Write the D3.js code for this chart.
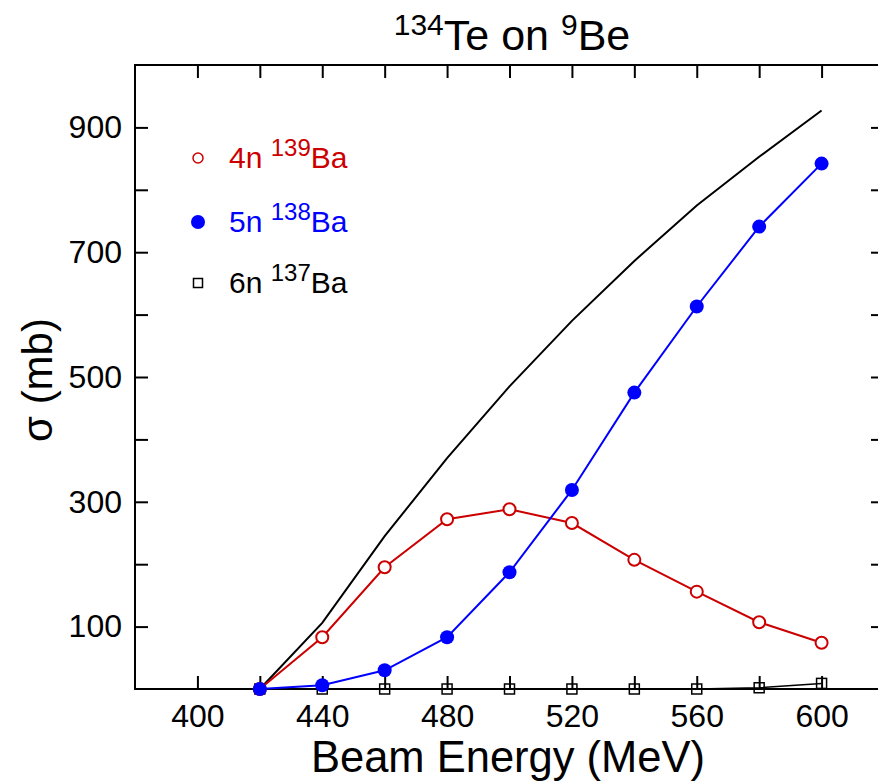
<!DOCTYPE html>
<html>
<head>
<meta charset="utf-8">
<script src="https://cdn.jsdelivr.net/npm/d3@7"></script>
<style>
  body { margin: 0; background: #fff; }
  svg text { font-family: "Liberation Sans", Arial, sans-serif; }
</style>
</head>
<body>
<svg id="chart" width="878" height="781"></svg>
<script>
// beam energies (MeV)
const energies = [420, 440, 460, 480, 500, 520, 540, 560, 580, 600];
// cross sections (mb)
const sigma4n = [0, 83, 195, 272, 288, 266, 207, 156, 107, 74];
const sigma5n = [0, 6, 30, 83, 187, 319, 475, 613, 741, 842];
const sigma6n = [0, 0, 0, 0, 0, 0, 0, 0, 2, 9];
const sigmaTotal = [0, 106, 245, 370, 485, 590, 686, 775, 853, 927];

const xTicks = [400, 420, 440, 460, 480, 500, 520, 540, 560, 580, 600];
const xLabels = [400, 440, 480, 520, 560, 600];
const yTicks = [100, 200, 300, 400, 500, 600, 700, 800, 900];
const yLabels = [100, 300, 500, 700, 900];

const red = "#cc0000", blue = "#0000ff";

const svg = d3.select("#chart");
const plotL = 135, plotR = 884, plotT = 65, plotB = 689;

const x = d3.scaleLinear().domain([380, 620]).range([plotL, plotR]);
const y = d3.scaleLinear().domain([0, 1000]).range([plotB, plotT]);

// axes, ticks pointing inward
const fmtX = d => xLabels.includes(d) ? d : "";
const fmtY = d => yLabels.includes(d) ? d : "";

svg.append("g").attr("transform", `translate(0,${plotB})`)
  .call(d3.axisBottom(x).tickValues(xTicks).tickSize(-13).tickPadding(15).tickFormat(fmtX))
  .attr("class", "axis");
svg.append("g").attr("transform", `translate(0,${plotT})`)
  .call(d3.axisTop(x).tickValues(xTicks).tickSize(-13).tickFormat(""))
  .attr("class", "axis");
svg.append("g").attr("transform", `translate(${plotL},0)`)
  .call(d3.axisLeft(y).tickValues(yTicks).tickSize(-13).tickPadding(13).tickFormat(fmtY))
  .attr("class", "axis");
svg.append("g").attr("transform", `translate(${plotR},0)`)
  .call(d3.axisRight(y).tickValues(yTicks).tickSize(-13).tickFormat(""))
  .attr("class", "axis");

svg.selectAll(".axis .domain").remove();
svg.selectAll(".axis line").attr("stroke", "#000").attr("stroke-width", 2);
svg.selectAll(".axis text").attr("fill", "#000").attr("font-size", 32)
  .attr("font-family", "Liberation Sans, Arial, sans-serif");

// frame
svg.append("rect")
  .attr("x", plotL).attr("y", plotT)
  .attr("width", plotR - plotL).attr("height", plotB - plotT)
  .attr("fill", "none").attr("stroke", "#000").attr("stroke-width", 2);

// total (line only)
const line = d3.line().x((d, i) => x(energies[i])).y(d => y(d));

svg.append("path").datum(sigmaTotal)
  .attr("d", line).attr("fill", "none").attr("stroke", "#000").attr("stroke-width", 2);

// 6n
svg.append("path").datum(sigma6n)
  .attr("d", line).attr("fill", "none").attr("stroke", "#000").attr("stroke-width", 1.5);
svg.selectAll(".sq").data(sigma6n).enter().append("rect")
  .attr("x", (d, i) => x(energies[i]) - 5).attr("y", d => y(d) - 5)
  .attr("width", 10).attr("height", 10)
  .attr("fill", "none").attr("stroke", "#000").attr("stroke-width", 1.5);

// 4n
svg.append("path").datum(sigma4n)
  .attr("d", line).attr("fill", "none").attr("stroke", red).attr("stroke-width", 2);
svg.selectAll(".c4").data(sigma4n).enter().append("circle")
  .attr("cx", (d, i) => x(energies[i])).attr("cy", d => y(d)).attr("r", 6)
  .attr("fill", "#fff").attr("stroke", red).attr("stroke-width", 2);

// 5n
svg.append("path").datum(sigma5n)
  .attr("d", line).attr("fill", "none").attr("stroke", blue).attr("stroke-width", 2);
svg.selectAll(".c5").data(sigma5n).enter().append("circle")
  .attr("cx", (d, i) => x(energies[i])).attr("cy", d => y(d)).attr("r", 7)
  .attr("fill", blue);

// legend
const legend = [
  {n: "4n ", a: "139", color: red, yy: 158},
  {n: "5n ", a: "138", color: blue, yy: 222},
  {n: "6n ", a: "137", color: "#000", yy: 283}
];
legend.forEach((d, i) => {
  if (i == 0) {
    svg.append("circle").attr("cx", 198).attr("cy", d.yy).attr("r", 5)
      .attr("fill", "none").attr("stroke", red).attr("stroke-width", 1.5);
  } else if (i == 1) {
    svg.append("circle").attr("cx", 198).attr("cy", d.yy).attr("r", 7).attr("fill", blue);
  } else {
    svg.append("rect").attr("x", 193.5).attr("y", d.yy - 4.5).attr("width", 9).attr("height", 9)
      .attr("fill", "none").attr("stroke", "#000").attr("stroke-width", 1.5);
  }
  const t = svg.append("text").attr("x", 229).attr("y", d.yy + 10)
    .attr("fill", d.color).attr("font-size", 30);
  t.append("tspan").text(d.n);
  t.append("tspan").attr("font-size", 24).attr("dy", -12).text(d.a);
  t.append("tspan").attr("dy", 12).text("Ba");
});

// title
const title = svg.append("text").attr("x", 512).attr("y", 50)
  .attr("text-anchor", "middle").attr("font-size", 43);
title.append("tspan").attr("font-size", 30).attr("dy", -15).text("134");
title.append("tspan").attr("dy", 15).text("Te on ");
title.append("tspan").attr("font-size", 30).attr("dy", -15).text("9");
title.append("tspan").attr("dy", 15).text("Be");

// axis titles
svg.append("text").attr("x", 508).attr("y", 772)
  .attr("text-anchor", "middle").attr("font-size", 43.5).text("Beam Energy (MeV)");
svg.append("text").attr("transform", "translate(52,380) rotate(-90)")
  .attr("text-anchor", "middle").attr("font-size", 42).text("σ (mb)");
</script>
</body>
</html>
